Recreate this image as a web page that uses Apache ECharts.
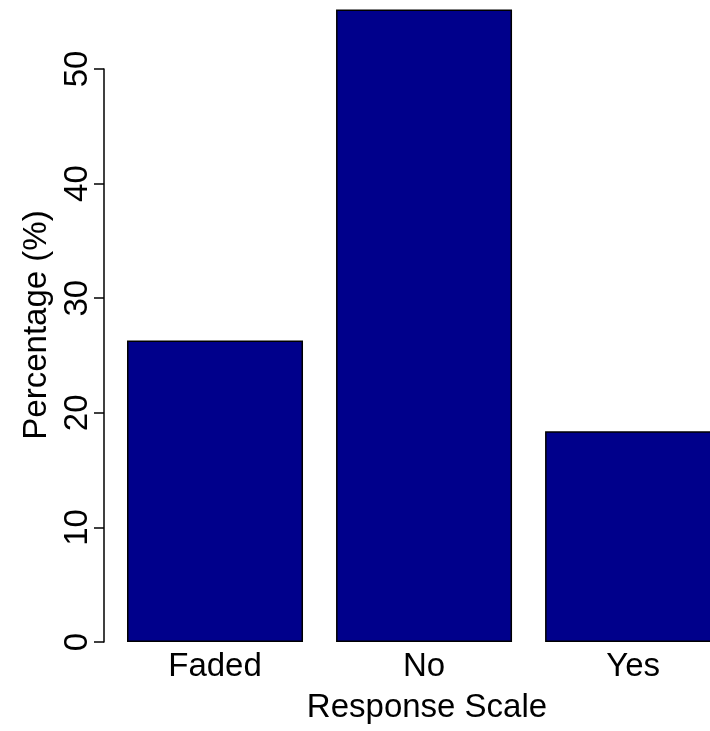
<!DOCTYPE html>
<html>
<head>
<meta charset="utf-8">
<script src="https://cdn.jsdelivr.net/npm/echarts@6/dist/echarts.min.js"></script>
<style>
html,body{margin:0;padding:0;background:#fff;}
#chart{width:710px;height:731px;}
</style>
</head>
<body>
<div id="chart"></div>
<script>
var categories = ['Faded', 'No', 'Yes'];
var percentages = [26.3, 55.2, 18.4];
var yTicks = [0, 10, 20, 30, 40, 50];
var xTitle = 'Response Scale';
var yTitle = 'Percentage (%)';

var FONT = '"Liberation Sans", Arial, Helvetica, sans-serif';
var positions = categories.map(function (c, i) { return i; });
var barData = percentages.map(function (v, i) { return [positions[i], v]; });

var chart = echarts.init(document.getElementById('chart'), null, {renderer: 'canvas'});
chart.setOption({
  animation: false,
  backgroundColor: '#ffffff',
  grid: {left: 110.5, right: 0, top: 69, bottom: 89, containLabel: false},
  xAxis: {
    type: 'value',
    min: -0.5,
    max: 2.368,
    splitLine: {show: false},
    axisLine: {show: false, onZero: false},
    axisTick: {show: false},
    axisLabel: {
      color: '#000', fontFamily: FONT, fontSize: 33, margin: 8,
      customValues: positions,
      formatter: function (v) { return categories[Math.round(v)]; }
    }
  },
  yAxis: {
    type: 'value',
    min: yTicks[0],
    max: yTicks[yTicks.length - 1],
    interval: 10,
    offset: 6.5,
    splitLine: {show: false},
    axisLine: {show: true, onZero: false, lineStyle: {color: '#000', width: 1.5}},
    axisTick: {show: true, length: 10, lineStyle: {color: '#000', width: 1.5}},
    axisLabel: {color: '#000', fontFamily: FONT, fontSize: 33, rotate: 90, margin: 10}
  },
  graphic: [{
    type: 'text',
    x: 37, y: 325,
    rotation: Math.PI / 2,
    style: {text: yTitle, fill: '#000', font: '33px ' + FONT, align: 'center', verticalAlign: 'middle'}
  }, {
    type: 'text',
    x: 427, y: 708,
    style: {text: xTitle, fill: '#000', font: '33px ' + FONT, align: 'center', verticalAlign: 'middle'}
  }],
  series: [{
    type: 'bar',
    data: barData,
    barWidth: 176,
    clip: false,
    itemStyle: {color: '#00008B', borderColor: '#000', borderWidth: 1.5}
  }]
});
</script>
</body>
</html>
